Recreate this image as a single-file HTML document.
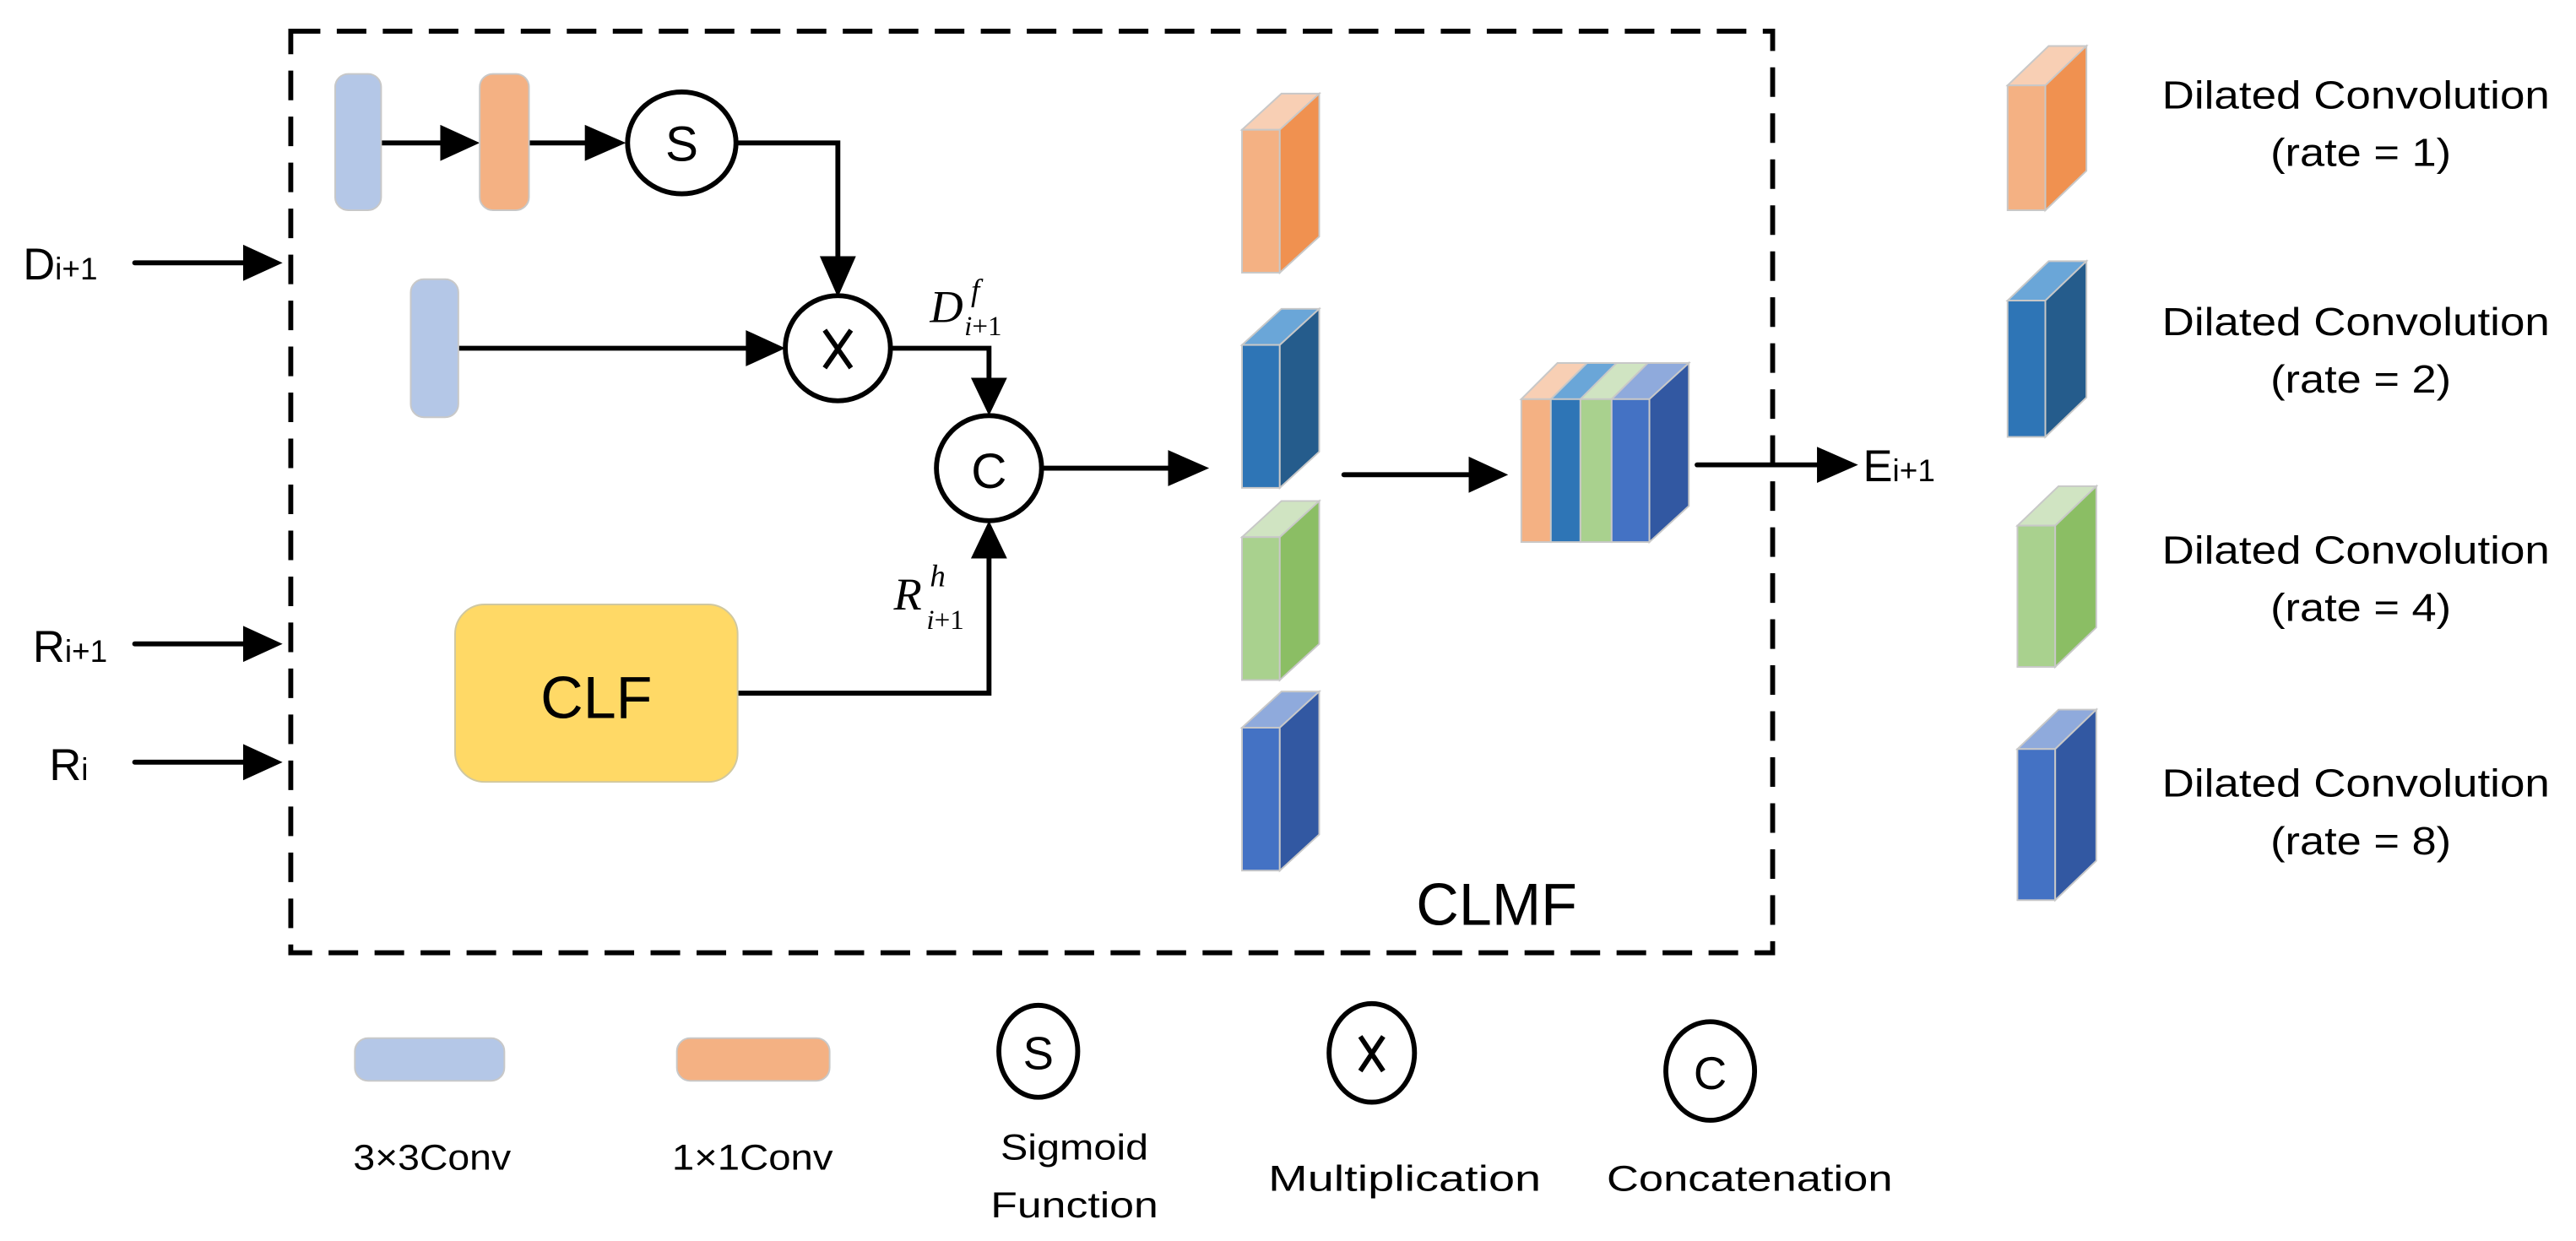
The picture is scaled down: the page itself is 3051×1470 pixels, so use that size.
<!DOCTYPE html>
<html><head><meta charset="utf-8"><style>
html,body{margin:0;padding:0;background:#fff;}
svg{display:block;}
text{font-family:"Liberation Sans",sans-serif;fill:#000;}
.m{font-family:"Liberation Serif",serif;font-style:italic;}
</style></head><body>
<svg width="3051" height="1470" viewBox="0 0 1568 755.5" preserveAspectRatio="none" xmlns="http://www.w3.org/2000/svg">
<!-- dashed box -->
<rect x="177" y="19" width="902" height="561" fill="none" stroke="#000" stroke-width="3" stroke-dasharray="18,10"/>

<g stroke="#000" stroke-width="3" fill="none" stroke-linecap="round">
<line x1="82" y1="160" x2="150" y2="160"/>
<line x1="82" y1="392" x2="150" y2="392"/>
<line x1="82" y1="464" x2="150" y2="464"/>
<line x1="226" y1="87" x2="270" y2="87"/>
<line x1="314" y1="87" x2="358" y2="87"/>
<polyline points="449,87 510,87 510,158"/>
<line x1="279" y1="212" x2="456" y2="212"/>
<polyline points="543,212 602,212 602,232"/>
<polyline points="449,422 602,422 602,338"/>
<line x1="635" y1="285" x2="713" y2="285"/>
<line x1="818" y1="289" x2="896" y2="289"/>
<line x1="1033" y1="283" x2="1108" y2="283"/>
</g>
<g fill="#000">
<polygon points="148,149 172,160 148,171"/>
<polygon points="148,381 172,392 148,403"/>
<polygon points="148,453 172,464 148,475"/>
<polygon points="268,76 292,87 268,98"/>
<polygon points="356,76 381,87 356,98"/>
<polygon points="499,156 510,181 521,156"/>
<polygon points="454,201 478,212 454,223"/>
<polygon points="591,230 602,253 613,230"/>
<polygon points="591,340 602,317 613,340"/>
<polygon points="711,274 736,285 711,296"/>
<polygon points="894,278 918,289 894,300"/>
<polygon points="1106,272 1131,283 1106,294"/>
</g>

<rect x="204" y="45" width="28" height="83" rx="8" fill="#B4C7E7" stroke="#c8c8c8" stroke-width="1"/>
<rect x="292" y="45" width="30" height="83" rx="8" fill="#F4B183" stroke="#c8c8c8" stroke-width="1"/>
<rect x="250" y="170" width="29" height="84" rx="8" fill="#B4C7E7" stroke="#c8c8c8" stroke-width="1"/>

<g fill="#fff" stroke="#000" stroke-width="3">
<ellipse cx="415" cy="87" rx="33" ry="31"/>
<ellipse cx="510" cy="212" rx="32" ry="32"/>
<ellipse cx="602" cy="285" rx="32" ry="32"/>
<ellipse cx="632" cy="640" rx="24" ry="28"/>
<ellipse cx="835" cy="641" rx="26" ry="30"/>
<ellipse cx="1041" cy="652" rx="27" ry="30"/>
</g>
<g stroke="#000" stroke-width="3">
<line x1="502" y1="201" x2="518" y2="224"/><line x1="518" y1="201" x2="502" y2="224"/>
<line x1="828" y1="631" x2="842" y2="652"/><line x1="842" y1="631" x2="828" y2="652"/>
</g>
<text x="415" y="98" font-size="30" text-anchor="middle">S</text>
<text x="602" y="297" font-size="30" text-anchor="middle">C</text>
<text x="632" y="651" font-size="28" text-anchor="middle">S</text>
<text x="1041" y="663" font-size="28" text-anchor="middle">C</text>

<rect x="277" y="368" width="172" height="108" rx="18" fill="#FFD966" stroke="#d0c8a0" stroke-width="1"/>
<text x="363" y="437" font-size="36" text-anchor="middle">CLF</text>

<text class="m" x="566" y="196" font-size="28">D</text>
<text class="m" x="591" y="183" font-size="19">f</text>
<text class="m" x="587" y="204" font-size="17">i<tspan font-style="normal">+1</tspan></text>
<text class="m" x="544" y="371" font-size="28">R</text>
<text class="m" x="566" y="357" font-size="19">h</text>
<text class="m" x="564" y="383" font-size="17">i<tspan font-style="normal">+1</tspan></text>

<text x="14" y="170" font-size="27">D<tspan font-size="19">i+1</tspan></text>
<text x="20" y="403" font-size="27">R<tspan font-size="19">i+1</tspan></text>
<text x="30" y="475" font-size="27">R<tspan font-size="19">i</tspan></text>
<text x="1134" y="293" font-size="27">E<tspan font-size="19">i+1</tspan></text>

<g stroke="#c8c8c8" stroke-width="1">
<polygon points="756,79 779,79 803,57 780,57" fill="#F8CFB4"/>
<rect x="756" y="79" width="23" height="87" fill="#F4B183"/>
<polygon points="779,79 803,57 803,144 779,166" fill="#F09150"/>
<polygon points="756,210 779,210 803,188 780,188" fill="#6AA6D8"/>
<rect x="756" y="210" width="23" height="87" fill="#2E75B6"/>
<polygon points="779,210 803,188 803,275 779,297" fill="#255C8C"/>
<polygon points="756,327 779,327 803,305 780,305" fill="#D0E4C2"/>
<rect x="756" y="327" width="23" height="87" fill="#A9D18E"/>
<polygon points="779,327 803,305 803,392 779,414" fill="#8BBE64"/>
<polygon points="756,443 779,443 803,421 780,421" fill="#8FAADC"/>
<rect x="756" y="443" width="23" height="87" fill="#4472C4"/>
<polygon points="779,443 803,421 803,508 779,530" fill="#3258A2"/>

<polygon points="926,243 944,243 966,221 948,221" fill="#F8CFB4"/>
<polygon points="944,243 962,243 984,221 966,221" fill="#6AA6D8"/>
<polygon points="962,243 981,243 1003,221 984,221" fill="#D0E4C2"/>
<polygon points="981,243 1004,243 1028,221 1003,221" fill="#8FAADC"/>
<rect x="926" y="243" width="18" height="87" fill="#F4B183"/>
<rect x="944" y="243" width="18" height="87" fill="#2E75B6"/>
<rect x="962" y="243" width="19" height="87" fill="#A9D18E"/>
<rect x="981" y="243" width="23" height="87" fill="#4472C4"/>
<polygon points="1004,243 1028,221 1028,308 1004,330" fill="#3258A2"/>

<polygon points="1222,52 1245,52 1270,28 1247,28" fill="#F8CFB4"/>
<rect x="1222" y="52" width="23" height="76" fill="#F4B183"/>
<polygon points="1245,52 1270,28 1270,104 1245,128" fill="#F09150"/>
<polygon points="1222,183 1245,183 1270,159 1247,159" fill="#6AA6D8"/>
<rect x="1222" y="183" width="23" height="83" fill="#2E75B6"/>
<polygon points="1245,183 1270,159 1270,242 1245,266" fill="#255C8C"/>
<polygon points="1228,320 1251,320 1276,296 1253,296" fill="#D0E4C2"/>
<rect x="1228" y="320" width="23" height="86" fill="#A9D18E"/>
<polygon points="1251,320 1276,296 1276,382 1251,406" fill="#8BBE64"/>
<polygon points="1228,456 1251,456 1276,432 1253,432" fill="#8FAADC"/>
<rect x="1228" y="456" width="23" height="92" fill="#4472C4"/>
<polygon points="1251,456 1276,432 1276,524 1251,548" fill="#3258A2"/>
</g>

<text x="911" y="563" font-size="36" text-anchor="middle">CLMF</text>

<g font-size="24" text-anchor="middle">
<text x="1434" y="66" textLength="236" lengthAdjust="spacingAndGlyphs">Dilated Convolution</text>
<text x="1437" y="101" textLength="110" lengthAdjust="spacingAndGlyphs">(rate = 1)</text>
<text x="1434" y="204" textLength="236" lengthAdjust="spacingAndGlyphs">Dilated Convolution</text>
<text x="1437" y="239" textLength="110" lengthAdjust="spacingAndGlyphs">(rate = 2)</text>
<text x="1434" y="343" textLength="236" lengthAdjust="spacingAndGlyphs">Dilated Convolution</text>
<text x="1437" y="378" textLength="110" lengthAdjust="spacingAndGlyphs">(rate = 4)</text>
<text x="1434" y="485" textLength="236" lengthAdjust="spacingAndGlyphs">Dilated Convolution</text>
<text x="1437" y="520" textLength="110" lengthAdjust="spacingAndGlyphs">(rate = 8)</text>
</g>

<rect x="216" y="632" width="91" height="26" rx="8" fill="#B4C7E7" stroke="#c8c8c8" stroke-width="1"/>
<rect x="412" y="632" width="93" height="26" rx="8" fill="#F4B183" stroke="#c8c8c8" stroke-width="1"/>
<g font-size="22" text-anchor="middle">
<text x="263" y="712" textLength="96" lengthAdjust="spacingAndGlyphs">3×3Conv</text>
<text x="458" y="712" textLength="98" lengthAdjust="spacingAndGlyphs">1×1Conv</text>
<text x="654" y="706" textLength="90" lengthAdjust="spacingAndGlyphs">Sigmoid</text>
<text x="654" y="741" textLength="102" lengthAdjust="spacingAndGlyphs">Function</text>
<text x="855" y="725" textLength="166" lengthAdjust="spacingAndGlyphs">Multiplication</text>
<text x="1065" y="725" textLength="174" lengthAdjust="spacingAndGlyphs">Concatenation</text>
</g>
</svg>
</body></html>
